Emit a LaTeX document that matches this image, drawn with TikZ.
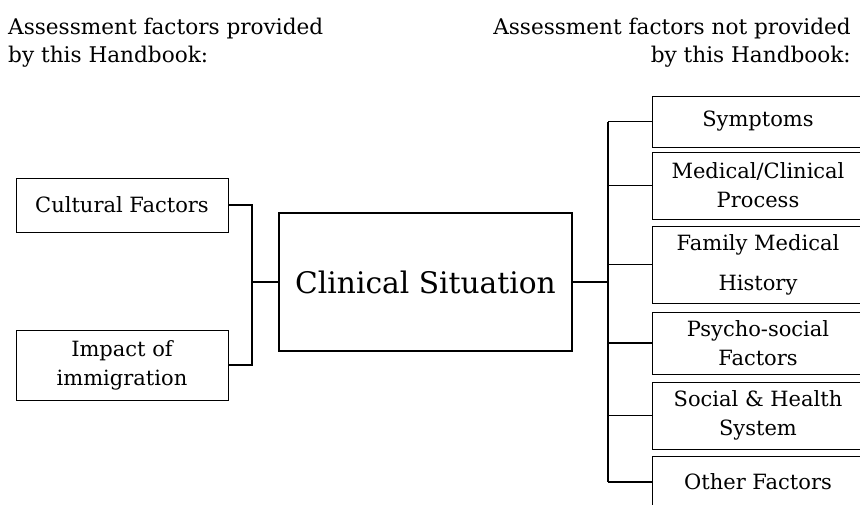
\documentclass[tikz,border=0pt]{standalone}
\usepackage{fontspec}
\setmainfont{DejaVu Serif}
\begin{document}
\begin{tikzpicture}[x=1pt,y=-1pt,
  sbox/.style={draw,line width=0.9pt,align=center,inner sep=0pt,
    font=\fontsize{21}{29}\selectfont},
  cbox/.style={draw,line width=2.4pt,align=center,inner sep=0pt,
    font=\fontsize{29.7}{36}\selectfont},
  hdr/.style={inner sep=0pt,font=\fontsize{21.6}{27.5}\selectfont},
  conn/.style={line width=1.8pt}]
\clip (0,0) rectangle (860,504);
\fill[white] (0,0) rectangle (860,504);
% headers
\node[hdr,anchor=north west,align=left] (hl) at (8,18) {Assessment factors provided\\by this Handbook:};
\node[hdr,anchor=north east,align=right] (hr) at (851,18) {Assessment factors not provided\\by this Handbook:};
% left boxes
\node[sbox,minimum width=212,minimum height=54] (cult) at (122,205) {Cultural Factors};
\node[sbox,minimum width=212,minimum height=70] (imm) at (122,365) {Impact of\\immigration};
% center
\node[cbox,minimum width=293,minimum height=138] (cs) at (425.5,282) {Clinical Situation};
% right boxes
\node[sbox,minimum width=212,minimum height=51] (sym) at (758,121.5) {Symptoms};
\node[sbox,minimum width=212,minimum height=67] (med) at (758,185.5) {Medical/Clinical\\Process};
\node[sbox,minimum width=212,minimum height=77] (fam) at (758,264.5) {Family Medical\\[11pt]History};
\node[sbox,minimum width=212,minimum height=62] (psy) at (758,343) {Psycho-social\\Factors};
\node[sbox,minimum width=212,minimum height=67] (soc) at (758,415.5) {Social \& Health\\System};
\node[sbox,minimum width=212,minimum height=52] (oth) at (758,482) {Other Factors};
% connectors
\coordinate (lj) at (252,282);
\coordinate (rj) at (608,282);
\draw[conn] (cult.east) -| (lj) |- (imm.east);
\draw[conn] (lj) -- (cs.west);
\draw[conn] (cs.east) -- (rj);
\draw[conn] (rj |- sym.west) -- (rj |- oth.west);
\foreach \b in {sym,med,fam,psy,soc,oth}
  \draw[conn] (rj |- \b.west) -- (\b.west);
\end{tikzpicture}
\end{document}
